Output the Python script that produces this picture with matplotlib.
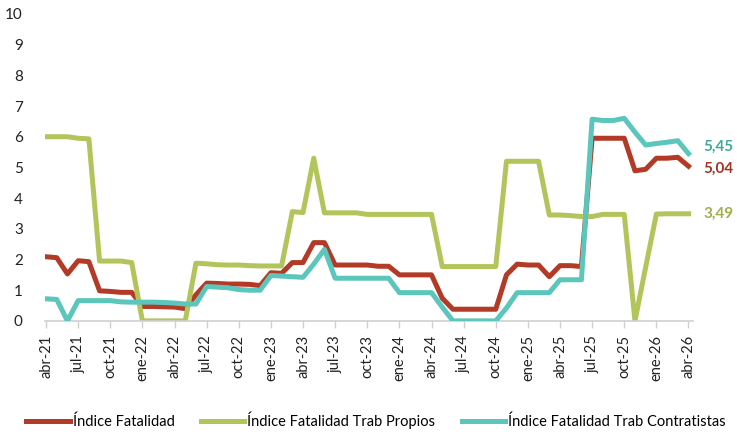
import matplotlib
matplotlib.use("Agg")
import matplotlib.pyplot as plt

plt.rcParams['font.family'] = ['Lato', 'DejaVu Sans']

# monthly series abr-21 .. abr-26
tick_labels = ['abr-21', 'jul-21', 'oct-21', 'ene-22', 'abr-22', 'jul-22', 'oct-22',
               'ene-23', 'abr-23', 'jul-23', 'oct-23', 'ene-24', 'abr-24', 'jul-24',
               'oct-24', 'ene-25', 'abr-25', 'jul-25', 'oct-25', 'ene-26', 'abr-26']

indice_fatalidad = [
    2.09, 2.06, 1.53, 1.96, 1.93, 0.98, 0.96, 0.93, 0.93, 0.47,
    0.47, 0.46, 0.45, 0.40, 0.85, 1.23, 1.22, 1.20, 1.20, 1.19,
    1.15, 1.57, 1.55, 1.90, 1.90, 2.55, 2.55, 1.82, 1.82, 1.82,
    1.82, 1.78, 1.78, 1.50, 1.50, 1.50, 1.50, 0.74, 0.38, 0.38,
    0.38, 0.38, 0.38, 1.50, 1.85, 1.82, 1.82, 1.44, 1.80, 1.80,
    1.77, 5.95, 5.95, 5.95, 5.95, 4.89, 4.94, 5.30, 5.30, 5.33,
    5.04]

trab_propios = [
    6.00, 6.00, 6.00, 5.95, 5.93, 1.95, 1.95, 1.95, 1.90, 0.00,
    0.00, 0.00, 0.00, 0.00, 1.88, 1.86, 1.83, 1.82, 1.82, 1.80,
    1.79, 1.79, 1.79, 3.56, 3.53, 5.30, 3.52, 3.52, 3.52, 3.52,
    3.47, 3.47, 3.47, 3.47, 3.47, 3.47, 3.47, 1.77, 1.77, 1.77,
    1.77, 1.77, 1.77, 5.20, 5.20, 5.20, 5.20, 3.45, 3.45, 3.43,
    3.40, 3.40, 3.47, 3.47, 3.47, 0.00, 1.75, 3.48, 3.49, 3.49,
    3.49]

trab_contratistas = [
    0.72, 0.70, 0.00, 0.66, 0.66, 0.66, 0.66, 0.62, 0.61, 0.61,
    0.61, 0.60, 0.58, 0.55, 0.55, 1.12, 1.10, 1.08, 1.02, 1.00,
    1.00, 1.48, 1.46, 1.44, 1.42, 1.85, 2.33, 1.39, 1.39, 1.39,
    1.39, 1.39, 1.39, 0.92, 0.92, 0.92, 0.92, 0.45, 0.00, 0.00,
    0.00, 0.00, 0.00, 0.42, 0.92, 0.92, 0.92, 0.92, 1.34, 1.34,
    1.34, 6.57, 6.53, 6.53, 6.60, 6.15, 5.73, 5.78, 5.82, 5.87,
    5.45]

red = '#B23A27'
green = '#B2C55A'
teal = '#5BC6BB'

x = list(range(len(indice_fatalidad)))

fig = plt.figure(figsize=(7.37, 4.36), dpi=100)
ax = fig.add_axes([0.061, 0.264, 0.879, 0.704])

lw = 3.6
ax.plot(x, indice_fatalidad, color=red, lw=lw, label='Índice Fatalidad', zorder=1)
ax.plot(x, trab_propios, color=green, lw=lw, label='Índice Fatalidad Trab Propios', zorder=2)
ax.plot(x, trab_contratistas, color=teal, lw=lw, label='Índice Fatalidad Trab Contratistas', zorder=3)

ax.set_ylim(0, 10)
ax.set_xlim(-0.1, 60.4)
ax.set_yticks(range(0, 11))
ax.set_xticks(range(0, 61, 3))
ax.set_xticklabels(tick_labels, rotation=90, fontsize=10.5, color='#222222')
ax.tick_params(axis='y', length=0, labelsize=11, pad=16, colors='#222222')
ax.tick_params(axis='x', length=5, width=1, color='#D0D0D0', pad=5)

for s in ['top', 'right', 'left']:
    ax.spines[s].set_visible(False)
ax.spines['bottom'].set_color('#D0D0D0')
ax.spines['bottom'].set_linewidth(1.2)

# end labels
ax.annotate('5,45', (60, trab_contratistas[-1]), xytext=(11, 5), textcoords='offset points',
            color='#3FA99E', fontsize=11, fontweight='bold', va='center', annotation_clip=False)
ax.annotate('5,04', (60, indice_fatalidad[-1]), xytext=(11, -2), textcoords='offset points',
            color='#A33424', fontsize=11, fontweight='bold', va='center', annotation_clip=False)
ax.annotate('3,49', (60, trab_propios[-1]), xytext=(11, 0), textcoords='offset points',
            color='#9DB14A', fontsize=11, fontweight='bold', va='center', annotation_clip=False)

fig.legend(loc='lower center', bbox_to_anchor=(0.51, -0.015), ncol=3, frameon=False,
           fontsize=10.5, handlelength=3.0, handletextpad=0.2, columnspacing=1.8)

fig.savefig('out.png', dpi=100)
